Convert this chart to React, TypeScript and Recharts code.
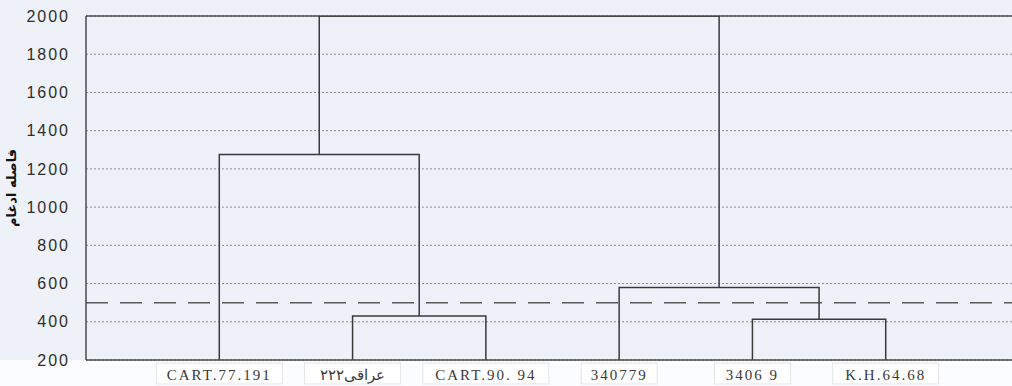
import React from 'react';
import {
  ComposedChart,
  Line,
  XAxis,
  YAxis,
  CartesianGrid,
  ReferenceLine,
  Label
} from 'recharts';

// leaves of the dendrogram, left to right
const leaves = ['CART.77.191', 'عراقی۲۲۲', 'CART.90. 94', '340779', '3406 9', 'K.H.64.68'];
// merges: [nodeA, nodeB, height]; leaves are 0..5, new clusters get 6, 7, ...
const merges: [number, number, number][] = [
  [1, 2, 430],
  [4, 5, 413],
  [0, 6, 1275],
  [3, 7, 580],
  [8, 9, 2000]
];
const yTicks = [200, 400, 600, 800, 1000, 1200, 1400, 1600, 1800, 2000];
const minorTicks = Array.from({ length: 46 }, (_, i) => 200 + i * 40);
const cutHeight = 500;
const yLabel = 'فاصله ادغام';

// positions of every node from the merge table
const nodeX: number[] = leaves.map((_, i) => i + 1);
const nodeH: number[] = leaves.map(() => 200);
const links = merges.map(([a, b, h]) => {
  const seg = [
    { x: nodeX[a], y: nodeH[a] },
    { x: nodeX[a], y: h },
    { x: nodeX[b], y: h },
    { x: nodeX[b], y: nodeH[b] }
  ];
  nodeX.push((nodeX[a] + nodeX[b]) / 2);
  nodeH.push(h);
  return seg;
});
// stems of the top cluster running out of the plot
const rootStems = [nodeX[8], nodeX[9]].map(x => [
  { x, y: 2000 },
  { x, y: 2600 }
]);

const LeafTick = ({ x, y, payload }: any) => {
  const name = leaves[payload.value - 1];
  const w = name.length * 10 + 16;
  return (
    <g>
      <rect x={x - w / 2} y={y - 5} width={w} height={21} fill="#ffffff" stroke="#e3e5ea" />
      <text
        x={x}
        y={y + 12}
        textAnchor="middle"
        fontFamily="'Liberation Serif', 'DejaVu Serif', serif"
        fontSize={15}
        letterSpacing={2}
        fill="#3a3a3a"
      >
        {name}
      </text>
    </g>
  );
};

const App: React.FC = () => {
  return (
    <div
      style={{
        position: 'fixed',
        left: 0,
        top: 0,
        width: 1012,
        height: 386,
        overflow: 'hidden',
        background: '#eef1f8'
      }}
    >
      <div style={{ position: 'absolute', left: 0, top: 360, width: 1012, height: 26, background: '#fbfcfd' }} />
      <ComposedChart
        width={1040}
        height={386}
        margin={{ top: 16, right: 21, bottom: 0, left: 0 }}
        style={{ position: 'absolute', left: 0, top: 0 }}
      >
        <CartesianGrid vertical={false} stroke="#8a8d94" strokeDasharray="2 2" />
        <XAxis
          type="number"
          dataKey="x"
          domain={[0, 7]}
          ticks={[1, 2, 3, 4, 5, 6]}
          allowDataOverflow
          height={26}
          stroke="#4a4a4a"
          strokeWidth={1.5}
          tickLine={false}
          tick={<LeafTick />}
        />
        <YAxis
          type="number"
          domain={[200, 2000]}
          ticks={yTicks}
          allowDataOverflow
          width={86}
          stroke="#4a4a4a"
          strokeWidth={1.5}
          tickLine={false}
          tick={{ fill: '#2e2e2e', fontSize: 16, fontFamily: 'Arial, "Liberation Sans", sans-serif', letterSpacing: 2 }}
          tickMargin={10}
        >
          <Label
            content={() => (
              <text
                x={12}
                y={188}
                transform="rotate(-90, 12, 188)"
                textAnchor="middle"
                dominantBaseline="middle"
                fontFamily="'DejaVu Sans', sans-serif"
                fontWeight="bold"
                fontSize={13}
                fill="#111"
              >
                {yLabel}
              </text>
            )}
          />
        </YAxis>
        <YAxis
          yAxisId="minor"
          type="number"
          domain={[200, 2000]}
          ticks={minorTicks}
          interval={0}
          allowDataOverflow
          width={0}
          mirror
          axisLine={false}
          tickSize={4}
          tickLine={{ stroke: '#6a6a6a' }}
          tick={() => <g />}
        />
        <ReferenceLine y={2000} stroke="#4a4a4a" strokeWidth={1.5} />
        <ReferenceLine y={cutHeight} stroke="#5a5a5a" strokeWidth={1.5} strokeDasharray="22 12" />
        {links.map((seg, i) => (
          <Line
            key={'l' + i}
            data={seg}
            dataKey="y"
            type="linear"
            stroke="#3a3a3a"
            strokeWidth={1.5}
            dot={false}
            activeDot={false}
            isAnimationActive={false}
          />
        ))}
        {rootStems.map((seg, i) => (
          <Line
            key={'r' + i}
            data={seg}
            dataKey="y"
            type="linear"
            stroke="#3a3a3a"
            strokeWidth={1.5}
            dot={false}
            activeDot={false}
            isAnimationActive={false}
          />
        ))}
      </ComposedChart>
    </div>
  );
};

export default App;
